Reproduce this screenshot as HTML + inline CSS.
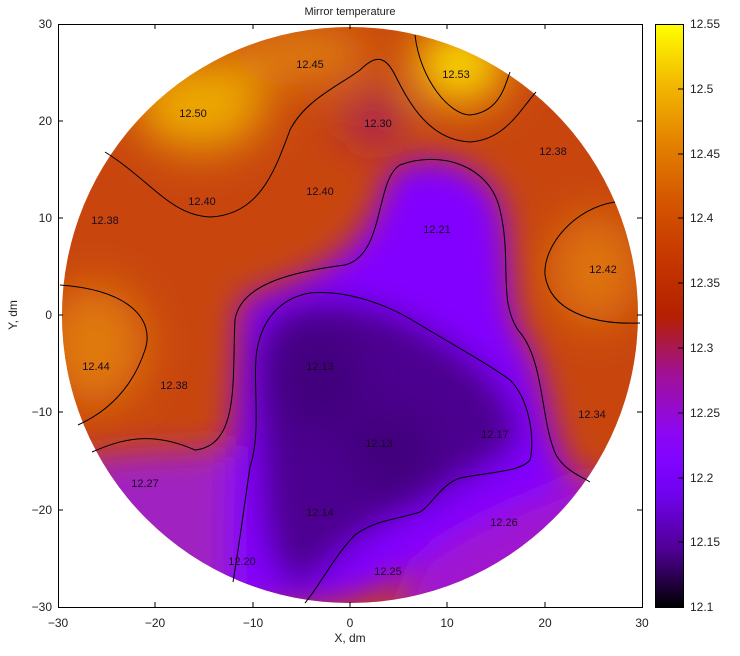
<!DOCTYPE html>
<html><head><style>
body{margin:0;background:#fff;}
svg text{font-family:"Liberation Sans",sans-serif;}
</style></head><body>
<svg width="740" height="651" xmlns="http://www.w3.org/2000/svg">
<defs>
<clipPath id="c"><circle cx="350" cy="315" r="288"/></clipPath>
<filter id="b" x="-20%" y="-20%" width="140%" height="140%"><feGaussianBlur stdDeviation="16"/></filter>
<filter id="b2" x="-50%" y="-50%" width="200%" height="200%"><feGaussianBlur stdDeviation="22"/></filter>
<linearGradient id="cb" x1="0" y1="1" x2="0" y2="0">
<stop offset="0" stop-color="#000000"/><stop offset="0.1" stop-color="#500096"/>
<stop offset="0.2" stop-color="#7202f2"/><stop offset="0.25" stop-color="#8004ff"/>
<stop offset="0.3" stop-color="#8c07f2"/><stop offset="0.4" stop-color="#a11096"/>
<stop offset="0.5" stop-color="#b42000"/><stop offset="0.6" stop-color="#c63700"/>
<stop offset="0.7" stop-color="#d55700"/><stop offset="0.8" stop-color="#e48300"/>
<stop offset="0.9" stop-color="#f2ba00"/><stop offset="1" stop-color="#ffff00"/>
</linearGradient>
</defs>
<g clip-path="url(#c)">
<rect x="50" y="20" width="600" height="600" fill="#c8460e"/>
<g filter="url(#b)">
<path d="M40,470 C150,440 200,460 240,440 L250,660 L40,660Z" fill="#a020c0"/>
<path d="M240,300 C300,280 370,260 385,180 C400,150 470,150 500,200 C515,260 505,310 525,340 C550,380 545,430 575,480 C540,520 480,540 430,560 C380,600 300,620 230,600 C225,500 235,400 240,300Z" fill="#8206ff"/>
<path d="M420,560 C470,520 540,500 600,470 L660,660 L380,660Z" fill="#a016d0"/>
<path d="M262,330 C280,300 340,290 410,320 C470,350 520,390 520,440 C500,470 450,480 420,505 C380,520 350,545 300,590 C270,580 262,530 260,460 C258,400 255,360 262,330Z" fill="#4e0390"/>
</g>
<g filter="url(#b2)">
<ellipse cx="320" cy="380" rx="40" ry="50" fill="#40037a"/>
<ellipse cx="390" cy="450" rx="45" ry="40" fill="#40037a"/>
<ellipse cx="375" cy="120" rx="28" ry="25" fill="#a41a6a"/>
<ellipse cx="460" cy="65" rx="45" ry="38" fill="#fad800"/>
<ellipse cx="200" cy="105" rx="65" ry="45" fill="#eca800"/>
<ellipse cx="300" cy="55" rx="70" ry="30" fill="#dd7a08"/>
<ellipse cx="95" cy="345" rx="50" ry="60" fill="#e07a10"/>
<ellipse cx="595" cy="270" rx="45" ry="55" fill="#de7410"/>
</g>
</g>
<g fill="none" stroke="#000" stroke-width="1">
<path d="M415,35 C420,80 450,115 470,115 C500,112 505,85 510,72"/>
<path d="M105,152 C150,180 170,215 210,217 C260,215 275,170 290,130 C305,100 340,85 360,70 C375,55 385,55 395,75 C410,105 430,140 470,142 C505,140 520,110 536,92"/>
<path d="M60,285 C130,290 155,320 145,350 C130,395 100,415 78,425"/>
<path d="M92,452 C120,440 150,430 195,450 C240,445 232,380 235,320 C240,285 290,272 345,265 C385,255 375,180 400,165 C440,150 490,165 500,210 C512,260 498,300 518,330 C545,360 540,420 556,455 C565,470 578,475 590,482"/>
<path d="M233,582 C240,540 245,500 250,467 C262,430 252,380 257,350 C262,320 280,298 310,293 C340,290 380,300 417,323 C450,343 490,365 510,380 C530,400 535,440 530,460 C520,472 490,472 460,478 C440,485 432,505 420,512 C395,520 375,520 355,535 C335,555 320,585 305,603"/>
<path d="M615,202 C575,208 543,245 545,275 C550,310 590,325 640,323"/>
</g>
<g font-size="11" fill="#1a0a20" text-anchor="middle">
<text x="310" y="68">12.45</text><text x="456" y="78">12.53</text><text x="193" y="117">12.50</text>
<text x="378" y="127">12.30</text><text x="553" y="155">12.38</text><text x="202" y="205">12.40</text>
<text x="320" y="195">12.40</text><text x="105" y="224">12.38</text><text x="437" y="233">12.21</text>
<text x="603" y="273">12.42</text><text x="96" y="370">12.44</text><text x="320" y="370">12.13</text>
<text x="174" y="389">12.38</text><text x="592" y="418">12.34</text><text x="495" y="438">12.17</text>
<text x="379" y="447">12.13</text><text x="145" y="487">12.27</text><text x="320" y="516">12.14</text>
<text x="504" y="526">12.26</text><text x="242" y="565">12.20</text><text x="388" y="575">12.25</text>
</g>
<rect x="58.5" y="24.5" width="584" height="583" fill="none" stroke="#000"/>
<rect x="655.5" y="24.5" width="28" height="583" fill="url(#cb)" stroke="#000"/>
<g stroke="#000">
<path d="M155,24v5M253,24v5M350,24v5M447,24v5M545,24v5M155,607v-5M253,607v-5M350,607v-5M447,607v-5M545,607v-5"/>
<path d="M58,121h5M58,218h5M58,315h5M58,412h5M58,510h5M642,121h-5M642,218h-5M642,315h-5M642,412h-5M642,510h-5"/>
<path d="M678,89h6M678,154h6M678,218h6M678,283h6M678,348h6M678,413h6M678,478h6M678,542h6"/>
</g>
<g font-size="12" fill="#222">
<text x="350" y="15" text-anchor="middle" font-size="11">Mirror temperature</text>
<g text-anchor="middle">
<text x="58" y="627">−30</text><text x="155" y="627">−20</text><text x="253" y="627">−10</text><text x="350" y="627">0</text>
<text x="447" y="627">10</text><text x="545" y="627">20</text><text x="642" y="627">30</text>
<text x="350" y="642">X, dm</text>
</g>
<g text-anchor="end">
<text x="52" y="28">30</text><text x="52" y="125">20</text><text x="52" y="222">10</text><text x="52" y="319">0</text>
<text x="52" y="416">−10</text><text x="52" y="514">−20</text><text x="52" y="611">−30</text>
</g>
<text transform="translate(17,315) rotate(-90)" text-anchor="middle">Y, dm</text>
<g text-anchor="start">
<text x="690" y="28">12.55</text><text x="690" y="93">12.5</text><text x="690" y="158">12.45</text><text x="690" y="222">12.4</text>
<text x="690" y="287">12.35</text><text x="690" y="352">12.3</text><text x="690" y="417">12.25</text><text x="690" y="482">12.2</text>
<text x="690" y="546">12.15</text><text x="690" y="611">12.1</text>
</g>
</g>
</svg>
</body></html>
